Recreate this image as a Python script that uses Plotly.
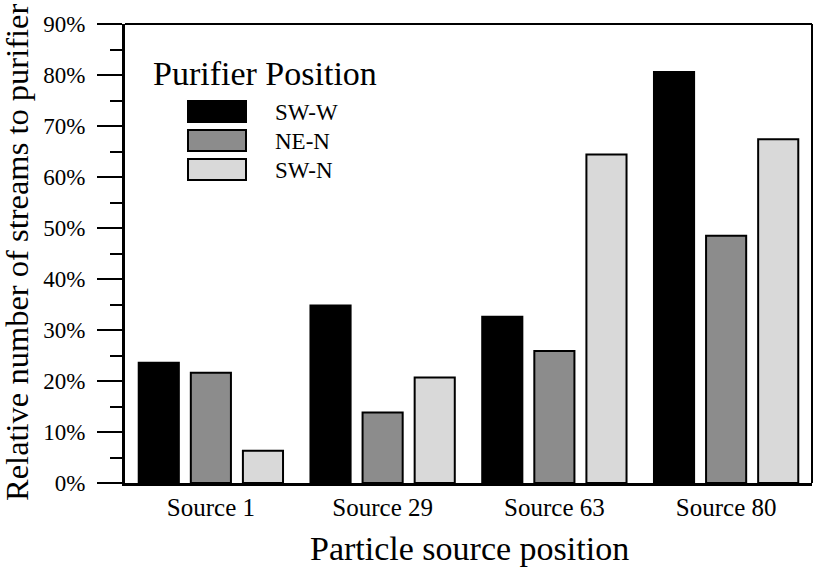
import plotly.graph_objects as go

categories = ["Source 1", "Source 29", "Source 63", "Source 80"]
series_names = ["SW-W", "NE-N", "SW-N"]
sw_w = [23.6, 34.8, 32.6, 80.6]
ne_n = [21.6, 13.8, 25.9, 48.5]
sw_n = [6.3, 20.7, 64.4, 67.4]
colors = ["#000000", "#8c8c8c", "#d9d9d9"]
y_ticks = [0, 10, 20, 30, 40, 50, 60, 70, 80, 90]
y_tick_labels = [f"{v}%" for v in y_ticks]

W, H = 813, 567
L, R, T, B = 125, 1, 24, 84
pw, ph = W - L - R, H - T - B

def px(x):
    return (x - L) / pw

def py(y):
    return (H - B - y) / ph

FONT = "Liberation Serif, Times New Roman, serif"

fig = go.Figure()
for name, vals, col in zip(series_names, [sw_w, ne_n, sw_n], colors):
    fig.add_trace(go.Bar(
        x=categories, y=vals, name=name,
        marker=dict(color=col, line=dict(color="#000000", width=2)),
        showlegend=False,
    ))

fig.update_layout(
    width=W, height=H,
    margin=dict(l=L, r=R, t=T, b=B),
    paper_bgcolor="white", plot_bgcolor="white",
    barmode="group", bargap=0.09, bargroupgap=0.23,
    font=dict(family=FONT, color="black"),
)
fig.update_xaxes(
    showline=True, linewidth=3, linecolor="black",
    ticks="", showgrid=False,
    tickfont=dict(size=25, family=FONT),
)
fig.update_yaxes(
    range=[0, 90], tickvals=y_ticks, ticktext=y_tick_labels,
    showline=True, linewidth=3, linecolor="black",
    ticks="outside", ticklen=25, tickwidth=2, tickcolor="black",
    minor=dict(dtick=5, tick0=0, ticks="outside", ticklen=12, tickwidth=2, tickcolor="black", showgrid=False),
    showgrid=False, zeroline=False,
    tickfont=dict(size=23, family=FONT),
    ticklabelstandoff=7,
)

# top and right frame
fig.add_shape(type="line", xref="paper", yref="paper", x0=0, x1=1, y0=1, y1=1,
              line=dict(color="black", width=2))
fig.add_shape(type="line", xref="paper", yref="paper", x0=1, x1=1, y0=0, y1=1,
              line=dict(color="black", width=2))

# axis titles
fig.add_annotation(text="Particle source position", xref="paper", yref="paper",
                   x=px(470), y=py(548), xanchor="center", yanchor="middle", showarrow=False,
                   font=dict(size=34, family=FONT))
fig.add_annotation(text="Relative number of streams to purifier", xref="paper", yref="paper",
                   x=px(17), y=py(253), xanchor="center", yanchor="middle", showarrow=False,
                   textangle=-90, font=dict(size=32.5, family=FONT))

# custom legend
fig.add_annotation(text="Purifier Position", xref="paper", yref="paper",
                   x=px(151), y=py(73), xanchor="left", yanchor="middle", showarrow=False,
                   font=dict(size=34, family=FONT))
row_centers = [111.5, 140.5, 169.5]
for name, col, yc in zip(series_names, colors, row_centers):
    fig.add_shape(type="rect", xref="paper", yref="paper",
                  x0=px(188), x1=px(246), y0=py(yc - 10.5), y1=py(yc + 10.5),
                  fillcolor=col, line=dict(color="black", width=2))
    fig.add_annotation(text=name, xref="paper", yref="paper",
                       x=px(273), y=py(yc + 1), xanchor="left", yanchor="middle", showarrow=False,
                       font=dict(size=23, family=FONT))

fig.write_html("out.html", config={"displayModeBar": False},
               post_script="document.body.style.margin='0px';")
